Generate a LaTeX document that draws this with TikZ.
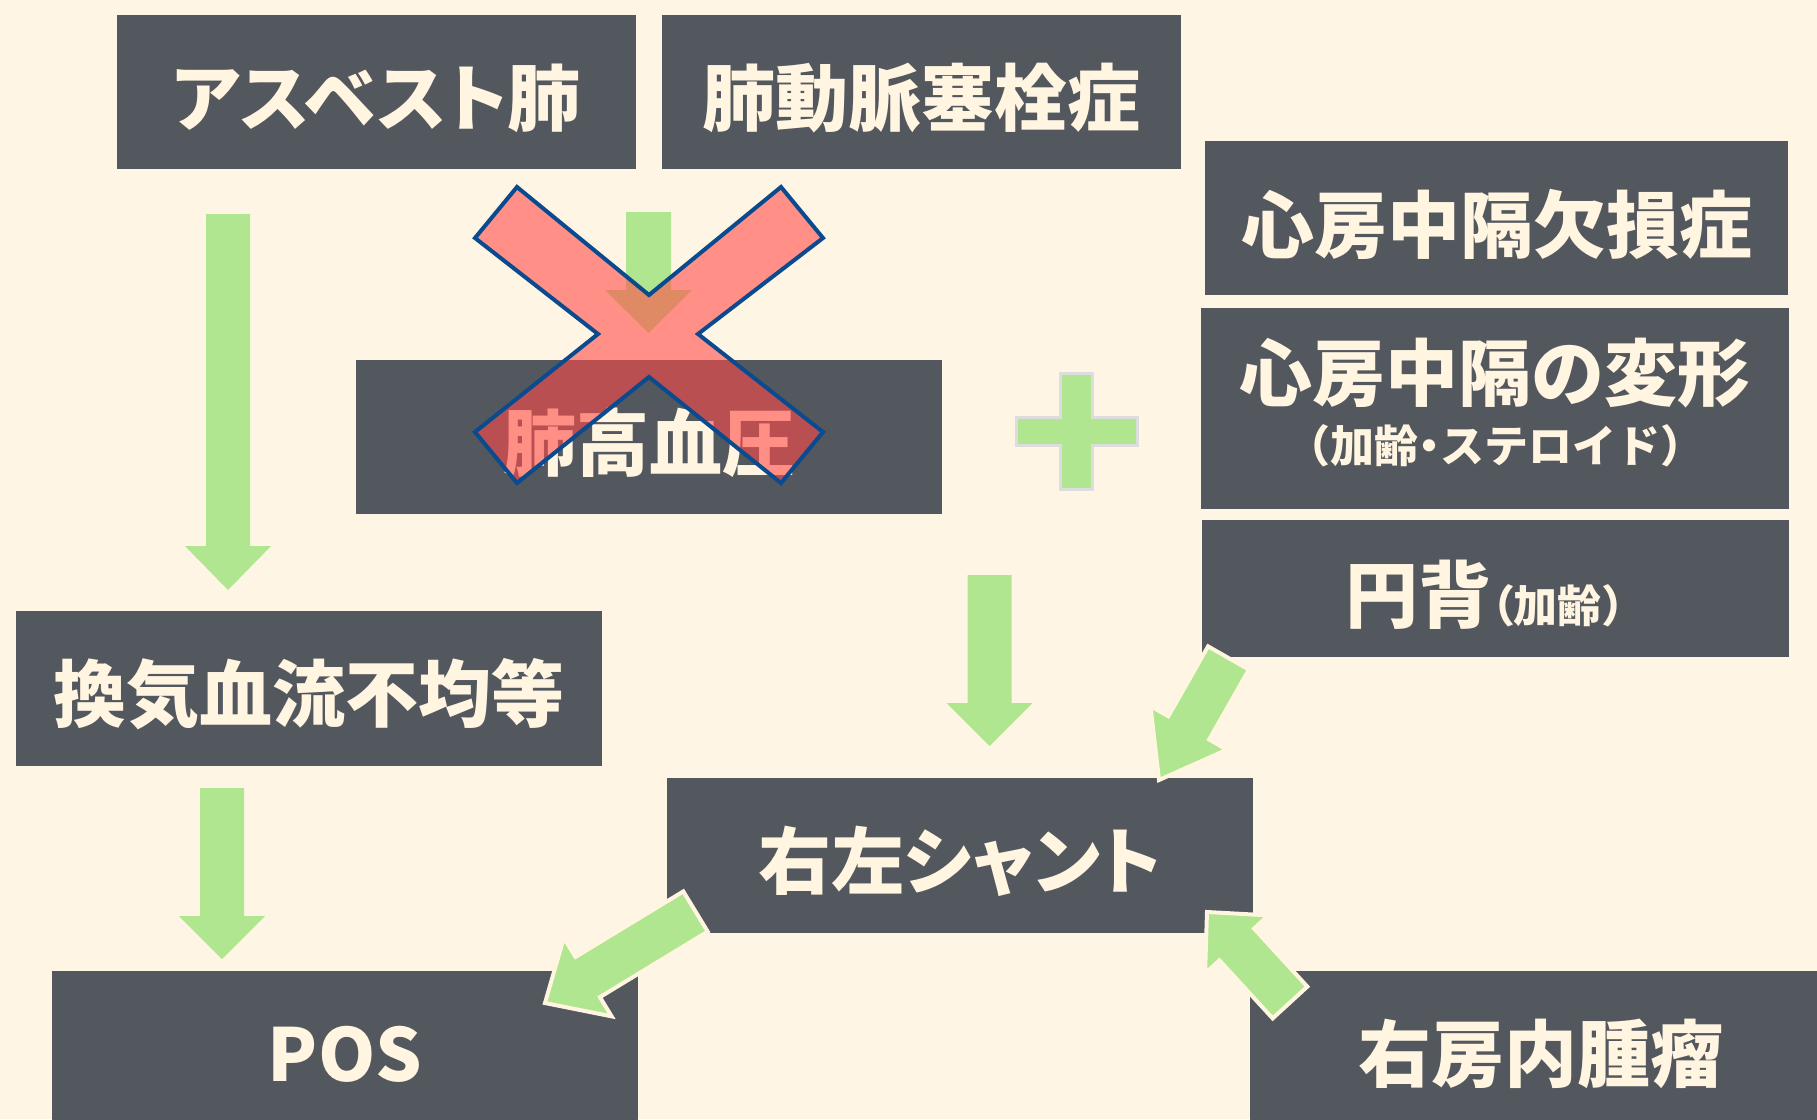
\documentclass[tikz,border=0pt]{standalone}
\usepackage{fontspec}
\newfontfamily\jpf{Noto Sans CJK JP}
\usetikzlibrary{calc}
\definecolor{bg}{HTML}{FFF5E4}
\definecolor{boxc}{HTML}{53575E}
\definecolor{txt}{HTML}{FFF5E1}
\definecolor{grn}{HTML}{B0E690}
\definecolor{xred}{RGB}{255,75,73}
\definecolor{xblue}{HTML}{0A4A8E}
\definecolor{plusgray}{HTML}{DDDDDD}
\newcommand\lowertxt[1]{\raisebox{-6pt}[\height][\depth]{#1}}
\newcommand\kana[1]{{\addfontfeature{RawFeature=+palt}#1}}
% #1 style, #2 start, #3 tip, #4 half shaft, #5 half head, #6 head length
\newcommand\blockarr[6]{%
  \coordinate (ba-H) at ($(#3)!#6!(#2)$);
  \path[#1] ($(#2)!#4!90:(#3)$) -- ($(ba-H)!#4!90:(#3)$) -- ($(ba-H)!#5!90:(#3)$)
    -- (#3) -- ($(ba-H)!#5!-90:(#3)$) -- ($(ba-H)!#4!-90:(#3)$)
    -- ($(#2)!#4!-90:(#3)$) -- cycle;}
\tikzset{
  box/.style={fill=boxc, text=txt, inner sep=0pt, font=\jpf\bfseries\fontsize{73}{80}\selectfont},
  lbl/.style={text=txt, inner sep=0pt, font=\jpf\bfseries\fontsize{73}{80}\selectfont},
  small/.style={font=\jpf\bfseries\fontsize{44}{50}\selectfont},
  garrow/.style={fill=grn},
  oarrow/.style={fill=grn, draw=txt, line width=4pt, line join=miter},
}
\begin{document}
\begin{tikzpicture}[x=1pt,y=-1pt]
\useasboundingbox (0,0) rectangle (1817,1119);
\clip (0,0) rectangle (1817,1119);
\fill[bg] (0,0) rectangle (1817,1119);

% boxes
\node[box, minimum width=519pt, minimum height=154pt] (asb) at (376.5,92) {\lowertxt{\kana{アスベスト}肺}};
\node[box, minimum width=519pt, minimum height=154pt] (pe) at (921.5,92) {\lowertxt{肺動脈塞栓症}};
\node[box, minimum width=583pt, minimum height=154pt] (asd) at (1496.5,218) {\lowertxt{心房中隔欠損症}};
\node[box, minimum width=588pt, minimum height=201pt] (def) at (1495,408.5) {};
\node[lbl] (defa) at (1495,373) {心房中隔の変形};
\node[lbl, small] (defb) at (1495,446) {（加齢\kana{・}ステロイド）};
\node[box, minimum width=587pt, minimum height=137pt] (kyp) at (1495.5,588.5) {\lowertxt{円背{\fontsize{44}{50}\selectfont\kana{（}加齢）}}};
\node[box, minimum width=586pt, minimum height=154pt] (ph) at (649,437) {\lowertxt{肺高血圧}};
\node[box, minimum width=586pt, minimum height=155pt] (vq) at (309,688.5) {\lowertxt{換気血流不均等}};
\node[box, minimum width=586pt, minimum height=155pt] (shunt) at (960,855.5) {\lowertxt{右左\kana{シャント}}};
\node[box, minimum width=586pt, minimum height=154pt] (pos) at (345,1048) {\lowertxt{POS}};
\node[box, minimum width=582pt, minimum height=154pt] (tum) at (1541,1048) {\lowertxt{右房内腫瘤}};

% arrow end points
\coordinate (aS) at (228,214);   \coordinate (aT) at (228,590);
\coordinate (bS) at (648.5,212); \coordinate (bT) at (648.5,333);
\coordinate (cS) at (222,788);   \coordinate (cT) at (222,959);
\coordinate (dS) at (989.5,575); \coordinate (dT) at (989.5,746);
\coordinate (eS) at (1228.5,658);\coordinate (eT) at (1159,780);
\coordinate (fS) at (695.5,911.5);\coordinate (fT) at (545,1003);
\coordinate (gS) at (1290,1002.5);\coordinate (gT) at (1207,912);

\blockarr{garrow}{aS}{aT}{22pt}{43pt}{44pt}
\blockarr{garrow}{bS}{bT}{22.5pt}{43.5pt}{43pt}
\blockarr{garrow}{cS}{cT}{22pt}{43pt}{43pt}
\blockarr{garrow}{dS}{dT}{22pt}{43pt}{43pt}
\blockarr{oarrow}{eS}{eT}{23.5pt}{44pt}{60pt}
\blockarr{oarrow}{fS}{fT}{23.5pt}{46pt}{50pt}
\blockarr{oarrow}{gS}{gT}{23.5pt}{43pt}{44pt}

% plus sign
\path[fill=grn, draw=plusgray, line width=3pt]
  (1060,373) -- (1092,373) -- (1092,417) -- (1137,417) -- (1137,445) -- (1092,445)
  -- (1092,489) -- (1060,489) -- (1060,445) -- (1016,445) -- (1016,417) -- (1060,417) -- cycle;

% cross
\path[fill=xred, fill opacity=0.6, draw=xblue, line width=4pt, line join=miter]
  (517,187) -- (649,295) -- (781,187) -- (823,238) -- (698,334) -- (823,432)
  -- (781,483) -- (649,377) -- (517,483) -- (475,432) -- (598,334) -- (475,238) -- cycle;
\end{tikzpicture}
\end{document}
